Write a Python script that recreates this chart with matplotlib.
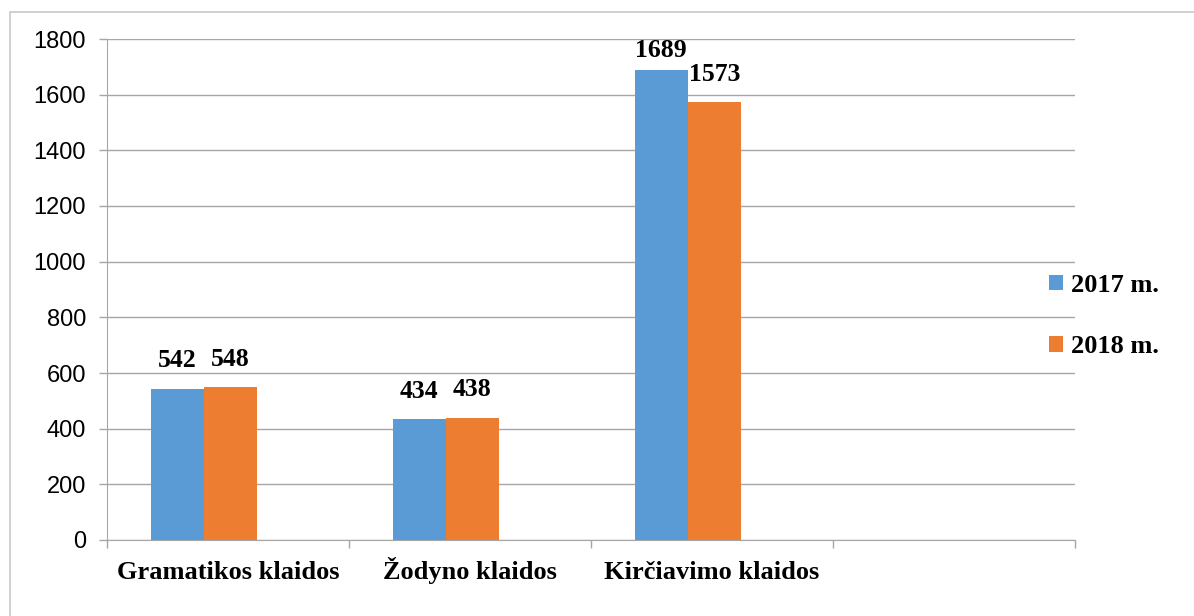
import matplotlib.pyplot as plt
from matplotlib.patches import Rectangle
import matplotlib.transforms as mtransforms
import numpy as np

# Data
categories = ['Gramatikos klaidos', 'Žodyno klaidos', 'Kirčiavimo klaidos', '']
values_2017 = [542, 434, 1689]
values_2018 = [548, 438, 1573]
series_names = ['2017 m.', '2018 m.']
yticks = [0, 200, 400, 600, 800, 1000, 1200, 1400, 1600, 1800]

blue = '#5B9BD5'
orange = '#ED7D31'
grid_color = '#a6a6a6'

fig = plt.figure(figsize=(11.94, 6.16), dpi=100)
ax = fig.add_axes([107 / 1194, 1 - 540 / 616, (1075 - 107) / 1194, (540 - 39) / 616])

# outer frame of the chart area
fig.patches.append(Rectangle((9.5 / 1194, -0.1), 1.2, 1 - 12 / 616 + 0.1,
                             transform=fig.transFigure, fill=False,
                             edgecolor='#c8c8c8', linewidth=1.2))

bar_w = 0.22
x = np.arange(len(values_2017))
b1 = ax.bar(x + 0.18 + bar_w / 2, values_2017, width=bar_w, color=blue, label=series_names[0])
b2 = ax.bar(x + 0.18 + 1.5 * bar_w, values_2018, width=bar_w, color=orange, label=series_names[1])

for bars in (b1, b2):
    for rect in bars:
        h = rect.get_height()
        off = 6 if h > 1650 else 12
        ax.annotate(f'{int(h)}',
                    xy=(rect.get_x() + rect.get_width() / 2, h),
                    xytext=(0, off), textcoords='offset points',
                    ha='center', va='bottom', fontsize=18.5, fontweight='bold',
                    family='Liberation Serif', annotation_clip=False)

ax.set_xlim(0, 4)
ax.set_ylim(0, 1800)
ax.set_yticks(yticks)
ax.set_yticklabels([str(t) for t in yticks], fontsize=17, family='Liberation Sans')
ax.yaxis.grid(True, color=grid_color, linewidth=1)
ax.set_axisbelow(True)

# category boundaries as ticks, labels on a common baseline in the middle of each slot
ax.set_xticks(np.arange(0, 5))
ax.set_xticklabels([])
ax.tick_params(axis='x', which='major', length=6, color=grid_color, width=1)
ax.tick_params(axis='y', length=6, color=grid_color, width=1, pad=9)
trans = mtransforms.blended_transform_factory(ax.transData, ax.transAxes)
for i, cat in enumerate(categories):
    ax.text(i + 0.5, -39 / 501, cat, transform=trans, ha='center', va='baseline',
            fontsize=19, fontweight='bold', family='Liberation Serif')

for side in ['top', 'right']:
    ax.spines[side].set_visible(False)
ax.spines['left'].set_color(grid_color)
ax.spines['bottom'].set_color(grid_color)

leg = fig.legend(handles=[b1, b2], loc='center left',
                 bbox_to_anchor=(1025 / 1194, 1 - 316 / 616), frameon=False,
                 prop={'family': 'Liberation Serif', 'weight': 'bold', 'size': 19},
                 handlelength=0.55, handleheight=0.55, handletextpad=0.3, labelspacing=1.45)

fig.savefig('out.png', dpi=100)
